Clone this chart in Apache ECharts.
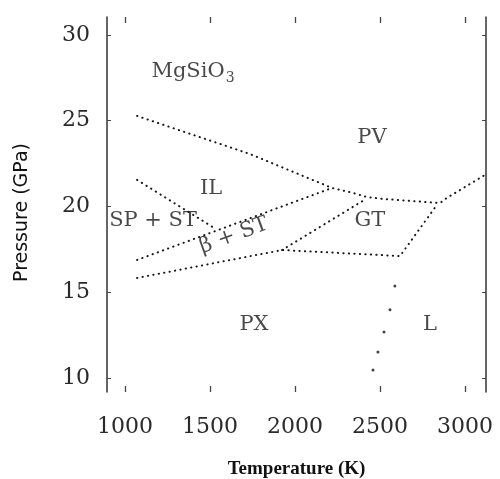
<!DOCTYPE html>
<html><head><meta charset="utf-8">
<script src="https://cdn.jsdelivr.net/npm/echarts@6/dist/echarts.min.js"></script>
<style>html,body{margin:0;padding:0;background:#fff}#c{width:500px;height:479px}</style>
</head><body><div id="c"></div>
<script>
// ---- data (Temperature K, Pressure GPa) ----
const xTicks = [1000, 1500, 2000, 2500, 3000];
const yTicks = [10, 15, 20, 25, 30];

const pvBoundaryT = [1071, 1735, 2218, 2341, 2424, 2518, 2853, 2894, 3118];
const pvBoundaryP = [25.28, 23.06, 21.08, 20.79, 20.55, 20.44, 20.20, 20.50, 21.84];

const ilSpT = [1071, 1524];
const ilSpP = [21.55, 18.75];

const betaUpperT = [1071, 2218];
const betaUpperP = [16.88, 21.08];

const pxUpperT = [1071, 1924, 2618, 2835];
const pxUpperP = [15.83, 17.46, 17.11, 20.09];

const gtLeftT = [1924, 2418];
const gtLeftP = [17.46, 20.44];

const meltT = [2459, 2488, 2524, 2559, 2588];
const meltP = [10.47, 11.52, 12.68, 13.97, 15.36];

const regionNames = ['MgSiO3', 'PV', 'IL', 'SP + ST', 'GT', 'β + ST', 'PX', 'L'];
const regionT = [1400, 2453, 1506, 1165, 2441, 1641, 1759, 2794];
const regionP = [27.84, 24.0, 21.02, 19.15, 19.15, 18.30, 13.09, 13.09];

// ---- chart ----
const zip = (a, b) => a.map((v, i) => [v, b[i]]);
const dotStyle = { color: '#151515', width: 2, type: [0.3, 5.2], cap: 'round' };
function boundary(name, T, P) {
  return { name, type: 'line', data: zip(T, P), showSymbol: false, symbol: 'none',
           lineStyle: dotStyle, silent: true, z: 3 };
}
const serif = 'DejaVu Serif';
const chart = echarts.init(document.getElementById('c'), null, { renderer: 'canvas' });
const XMIN = 894, XMAX = 3124, YMIN = 9.18, YMAX = 31.05;
const axisCommon = { type: 'value', splitLine: { show: false } };
chart.setOption({
  animation: false,
  backgroundColor: '#fff',
  grid: { left: 107, right: 14, top: 17, bottom: 87, containLabel: false, outerBoundsMode: 'none' },
  xAxis: [
    Object.assign({}, axisCommon, {
      min: XMIN, max: XMAX, position: 'bottom',
      axisLine: { show: false },
      axisTick: { show: true, inside: true, length: 6, customValues: xTicks, lineStyle: { color: '#444', width: 1.3 } },
      axisLabel: { customValues: xTicks, margin: 24, fontFamily: serif, fontSize: 22, color: '#2a2a2a',
                   formatter: v => String(v) },
      name: 'Temperature (K)', nameLocation: 'middle', nameGap: 68,
      nameTextStyle: { fontFamily: 'Liberation Serif', fontWeight: 'bold', fontSize: 19, color: '#111' }
    }),
    Object.assign({}, axisCommon, {
      min: XMIN, max: XMAX, position: 'top',
      axisLine: { show: false },
      axisTick: { show: true, inside: true, length: 6, customValues: xTicks, lineStyle: { color: '#444', width: 1.3 } },
      axisLabel: { show: false }
    })
  ],
  yAxis: [
    Object.assign({}, axisCommon, {
      min: YMIN, max: YMAX, position: 'left',
      axisLine: { show: true, lineStyle: { color: '#333', width: 1.5 } },
      axisTick: { show: true, inside: true, length: 4, customValues: yTicks, lineStyle: { color: '#444' } },
      axisLabel: { customValues: yTicks, margin: 17, fontFamily: serif, fontSize: 22, color: '#2a2a2a',
                   formatter: v => String(v) },
      name: 'Pressure (GPa)', nameLocation: 'middle', nameGap: 75,
      nameTextStyle: { fontFamily: 'DejaVu Sans', fontSize: 19, color: '#111', padding: [0, 16, 0, 0] }
    }),
    Object.assign({}, axisCommon, {
      min: YMIN, max: YMAX, position: 'right',
      axisLine: { show: true, lineStyle: { color: '#333', width: 1.5 } },
      axisTick: { show: true, inside: true, length: 4, customValues: yTicks, lineStyle: { color: '#444' } },
      axisLabel: { show: false }
    })
  ],
  series: [
    boundary('PV boundary', pvBoundaryT, pvBoundaryP),
    boundary('IL / SP+ST', ilSpT, ilSpP),
    boundary('beta upper', betaUpperT, betaUpperP),
    boundary('PX upper', pxUpperT, pxUpperP),
    boundary('GT left', gtLeftT, gtLeftP),
    { name: 'melting', type: 'scatter', data: zip(meltT, meltP), symbol: 'circle', symbolSize: 3,
      itemStyle: { color: '#151515' }, silent: true },
    { name: 'regions', type: 'scatter', symbolSize: 1, itemStyle: { color: 'rgba(0,0,0,0)' }, silent: true,
      data: regionNames.map((n, i) => ({
        name: n, value: [regionT[i], regionP[i]],
        label: n === 'β + ST' ? { rotate: 20 } : undefined
      })),
      label: {
        show: true, position: 'inside', fontFamily: serif, fontSize: 21, color: '#1a1a1a',
        formatter: p => p.name === 'MgSiO3' ? 'MgSiO{sub|3}' : p.name,
        rich: { sub: { fontFamily: serif, fontSize: 14, color: '#1a1a1a', verticalAlign: 'bottom', padding: [12, 0, 0, 1] } }
      }
    }
  ]
});
</script></body></html>
